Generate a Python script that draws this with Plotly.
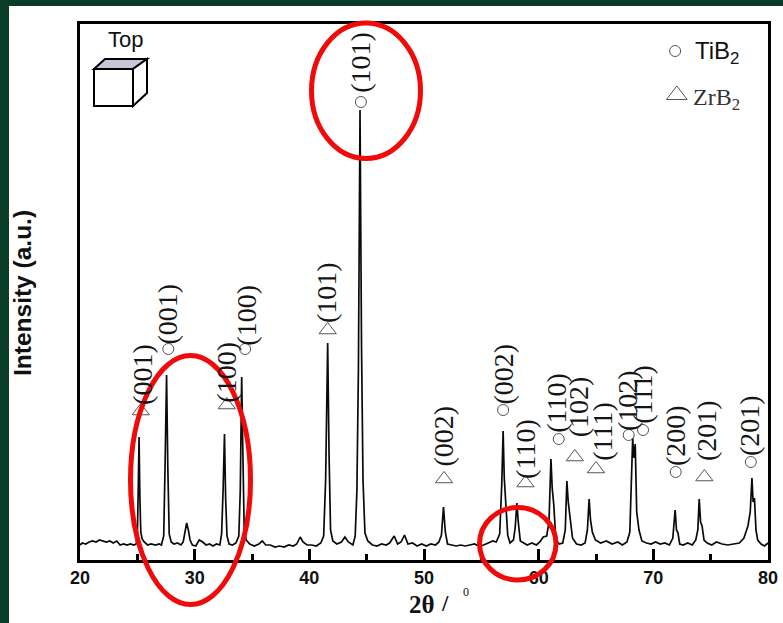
import plotly.graph_objects as go

W, H = 783, 623
L, R, T, B = 80, 768, 24, 560

two_theta = [
 20.0,20.2,20.5,20.8,21.1,21.4,21.7,22.0,22.3,22.6,22.9,23.2,23.5,23.8,24.1,24.4,24.7,24.9,
 25.0,25.08,25.15,25.22,25.3,25.42,25.6,25.9,26.2,26.6,26.9,27.1,27.3,27.42,27.55,27.66,27.78,27.95,28.2,28.5,
 28.8,29.0,29.15,29.3,29.45,29.6,29.8,30.1,30.4,30.7,31.0,31.3,31.6,31.9,32.2,32.35,32.48,32.6,32.7,32.82,33.0,33.3,33.6,33.85,
 33.98,34.1,34.2,34.32,34.5,34.8,35.2,35.6,35.9,36.2,36.6,37.0,37.4,37.8,38.2,38.6,38.9,39.2,39.45,39.8,40.2,40.6,41.0,41.25,41.42,
 41.6,41.72,41.85,42.05,42.4,42.8,43.1,43.4,43.8,44.0,44.15,44.28,44.42,44.55,44.68,44.85,45.1,45.5,45.9,46.3,46.7,47.0,47.4,47.7,48.0,48.3,48.6,
 49.0,49.4,49.8,50.2,50.6,51.0,51.3,51.52,51.7,51.86,52.05,52.4,52.8,53.2,53.6,54.0,54.4,54.8,55.2,55.6,56.0,56.3,56.6,56.78,
 56.9,57.0,57.12,57.3,57.5,57.8,57.95,58.1,58.22,58.4,58.7,59.0,59.4,59.8,60.1,60.4,60.7,60.9,61.07,61.18,61.32,61.5,61.8,62.1,62.32,
 62.46,62.58,62.72,62.95,63.3,63.7,64.05,64.25,64.4,64.52,64.68,64.95,65.4,65.9,66.4,66.9,67.3,67.7,67.95,68.1,68.2,68.3,68.42,68.55,68.75,69.0,69.4,
 69.8,70.2,70.6,71.0,71.4,71.7,71.9,72.02,72.15,72.3,72.6,73.0,73.4,73.7,73.88,74.0,74.12,74.25,74.42,74.7,75.1,75.5,76.0,76.5,77.0,77.5,77.9,78.25,78.45,
 78.6,78.7,78.82,78.95,79.1,79.4,79.7,80.0]
intensity = [
 15,17,16,18,19,18,20,19,18,19,17,19,15,16,15,16,15,16,
 24,70,123,64,28,21,18,15,16,15,16,15,24,95,185,92,26,18,16,17,
 15,18,26,37,30,20,15,14,20,18,15,16,14,16,15,26,70,126,62,24,16,15,17,24,
 70,183,110,30,20,16,14,16,19,15,15,13,14,13,15,14,16,23,18,15,15,14,17,24,80,
 217,105,30,19,16,18,23,18,15,24,70,190,450,215,80,27,19,15,14,16,15,17,24,16,18,25,16,
 17,14,16,14,16,15,18,25,53,28,16,15,14,15,14,15,16,14,15,17,19,18,26,75,
 129,82,58,25,17,20,32,57,38,19,17,15,17,15,18,23,24,38,101,72,55,20,16,17,30,
 79,58,42,22,16,15,17,30,61,40,28,20,17,19,16,18,15,18,28,75,122,102,116,48,30,19,17,
 16,18,16,17,15,22,50,30,27,16,15,17,15,20,30,61,38,34,20,17,15,18,16,15,16,17,22,34,48,
 82,58,62,30,20,16,14,17]

circle_x = [27.7, 34.4, 44.5, 56.9, 61.75, 67.85, 69.1, 71.95, 78.5]
circle_y = [211, 211, 458, 150, 121, 125, 130, 88, 98]
triangle_x = [25.3, 32.8, 41.6, 51.75, 58.85, 63.15, 65.0, 74.45]
triangle_y = [149, 155, 230, 81, 77, 103, 91, 83]
legend_circle = (71.9, 509)
legend_triangle = (72.05, 465)

labels_text = ["(001)","(001)","(100)","(100)","(101)","(101)","(002)","(002)","(110)",
               "(110)","(102)","(111)","(102)","(111)","(200)","(201)","(201)"]
labels_x = [25.4,27.55,32.7,34.45,41.45,44.4,51.7,56.85,58.8,61.5,63.45,65.5,67.7,69.0,71.9,74.6,78.35]
labels_y = [186,246,188,245,268,498,124,186,111,157,153,129,160,166,124,129,134]
x_ticks = [20, 30, 40, 50, 60, 70, 80]


def px(x):
    return (x - L) / (R - L)


def py(y):
    return (B - y) / (B - T)


GREEN = "#0a3d28"
fig = go.Figure()
fig.add_trace(go.Scatter(x=two_theta, y=intensity, mode="lines",
                         line=dict(color="#0a0a0a", width=1.7), showlegend=False))
circ = dict(symbol="circle-open", size=11, color="#555555", line=dict(color="#555555", width=1))
tri = dict(symbol="triangle-up-open", size=15, color="#555555", line=dict(color="#555555", width=1))
fig.add_trace(go.Scatter(x=circle_x, y=circle_y, mode="markers", marker=circ, showlegend=False))
fig.add_trace(go.Scatter(x=triangle_x, y=triangle_y, mode="markers", marker=tri, showlegend=False))
fig.add_trace(go.Scatter(x=[legend_circle[0]], y=[legend_circle[1]], mode="markers", marker=circ, showlegend=False))
fig.add_trace(go.Scatter(x=[legend_triangle[0]], y=[legend_triangle[1]], mode="markers",
                         marker=dict(tri, size=18), showlegend=False))

ann = []
for t, x, y in zip(labels_text, labels_x, labels_y):
    ann.append(dict(x=x, y=y, xref="x", yref="y", text=t, textangle=-90, showarrow=False,
                    xanchor="center", yanchor="middle",
                    font=dict(family="Liberation Serif", size=28, color="#151515")))


def note(x, y, text, family, size, angle=0, color="#111111"):
    ann.append(dict(x=px(x), y=py(y), xref="paper", yref="paper", text=text, textangle=angle,
                    showarrow=False, xanchor="center", yanchor="middle",
                    font=dict(family=family, size=size, color=color)))


SANS, SERIF = "Liberation Sans", "Liberation Serif"
note(22, 293, "<b>Intensity (a.u.)</b>", SANS, 24.5, -90)
note(125, 40, "Top", SANS, 22)
note(717, 52, "TiB<sub>2</sub>", SANS, 24)
note(716, 99, "ZrB<sub>2</sub>", SERIF, 24, color="#333333")
note(422, 604, "<b>2θ</b>", SERIF, 25)
note(445, 603, "<b>/</b>", SERIF, 23)
note(466, 592, "0", SERIF, 12)

shapes = [
    dict(type="rect", xref="paper", yref="paper", x0=px(0), x1=px(9), y0=py(0), y1=py(H),
         fillcolor=GREEN, line_width=0, layer="below"),
    dict(type="rect", xref="paper", yref="paper", x0=px(0), x1=px(W), y0=py(0), y1=py(6),
         fillcolor=GREEN, line_width=0, layer="below"),
]
# cube
for path, fill in [
    ((94, 69, 133, 69, 133, 106, 94, 106), "white"),
    ((94, 69, 105, 59, 147, 59, 133, 69), "#c6c6d6"),
    ((133, 69, 147, 59, 147, 93, 133, 106), "white"),
]:
    d = "M" + " L".join(f"{px(path[i]):.5f},{py(path[i + 1]):.5f}" for i in range(0, len(path), 2)) + " Z"
    shapes.append(dict(type="path", xref="paper", yref="paper", path=d, fillcolor=fill,
                       line=dict(color="black", width=2)))
# red ellipses
for x0, x1, y0, y1 in [(130.5, 250.5, 355.5, 604.5), (311.5, 420.5, 23, 158.5), (479.5, 556, 507.5, 580)]:
    shapes.append(dict(type="circle", xref="paper", yref="paper", x0=px(x0), x1=px(x1),
                       y0=py(y0), y1=py(y1), line=dict(color="#f00a0a", width=5)))

fig.update_layout(
    width=W, height=H, autosize=False, paper_bgcolor="white", plot_bgcolor="white",
    margin=dict(l=L, r=W - R, t=T, b=H - B, pad=0, autoexpand=False),
    shapes=shapes, annotations=ann, showlegend=False,
    xaxis=dict(range=[20, 80], tickmode="array", tickvals=x_ticks, ticks="inside", ticklen=11,
               tickwidth=2.5, tickcolor="black", showgrid=False, zeroline=False, showline=True,
               linecolor="black", linewidth=2.5, mirror=True,
               tickfont=dict(family=SANS, size=18, color="#111111", weight="bold"),
               minor=dict(tickmode="array", tickvals=[25, 35, 45, 55, 65, 75], ticks="inside",
                          ticklen=6, tickwidth=2.5, tickcolor="black", showgrid=False)),
    yaxis=dict(range=[0, B - T], showticklabels=False, ticks="", showgrid=False, zeroline=False,
               showline=True, linecolor="black", linewidth=2.5, mirror=True),
)

fig.write_html("out.html", config={"displayModeBar": False},
               post_script="document.documentElement.style.overflow='hidden';document.body.style.margin='0';document.body.style.overflow='hidden';")
